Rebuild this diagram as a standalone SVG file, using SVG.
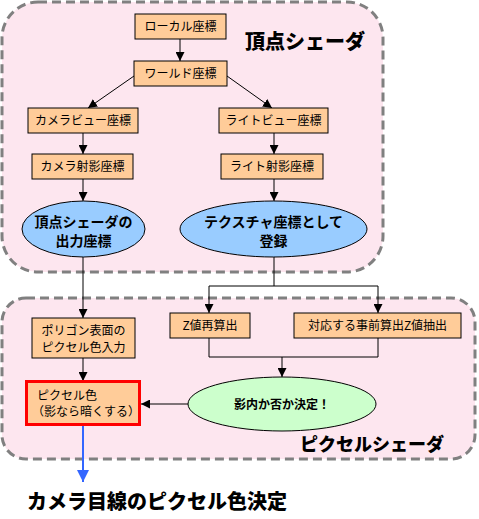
<svg xmlns="http://www.w3.org/2000/svg" width="479" height="519" viewBox="0 0 479 519">
<style>
.grp{fill:#fde6ef;stroke:#808080;stroke-width:3;stroke-dasharray:9 5}
.box{fill:#ffcc99;stroke:#000;stroke-width:1}
.t{font-family:"Noto Sans CJK JP",sans-serif;font-size:12px;fill:#000}
.e{font-family:"Noto Sans CJK JP",sans-serif;font-size:14px;font-weight:bold;fill:#000}
.big{font-family:"Noto Sans CJK JP",sans-serif;font-weight:900;fill:#000}
.c{fill:none;stroke:#000;stroke-width:1}
</style>
<defs>
<marker id="a" viewBox="0 0 10 10" refX="10" refY="5" markerWidth="9" markerHeight="9" markerUnits="userSpaceOnUse" orient="auto"><path d="M0,0L10,5L0,10z" fill="#000"/></marker>
<marker id="ab" viewBox="0 0 10 10" refX="10" refY="5" markerWidth="12" markerHeight="12" markerUnits="userSpaceOnUse" orient="auto"><path d="M0,0L10,5L0,10z" fill="#3366ff"/></marker>
</defs>
<rect class="grp" x="2" y="2" width="381" height="270" rx="36"/>
<rect class="grp" x="2" y="298" width="473" height="161" rx="24"/>
<text class="big" x="245" y="49" font-size="20">頂点シェーダ</text>
<text class="big" x="300" y="451" font-size="18">ピクセルシェーダ</text>
<g id="connectors">
<path class="c" d="M180,39V61" marker-end="url(#a)"/>
<path class="c" d="M134,76L88,108" marker-end="url(#a)"/>
<path class="c" d="M227,76L272,108" marker-end="url(#a)"/>
<path class="c" d="M83,133V154" marker-end="url(#a)"/>
<path class="c" d="M274,133V154" marker-end="url(#a)"/>
<path class="c" d="M83,179V201" marker-end="url(#a)"/>
<path class="c" d="M274,179V201" marker-end="url(#a)"/>
<path class="c" d="M83,257V318" marker-end="url(#a)"/>
<path class="c" d="M274,257V286H209V313" marker-end="url(#a)"/>
<path class="c" d="M274,286H378V313" marker-end="url(#a)"/>
<path class="c" d="M209,338V357H378V338"/>
<path class="c" d="M282,357V377" marker-end="url(#a)"/>
<path class="c" d="M83,358V381" marker-end="url(#a)"/>
<path class="c" d="M188,404H141" marker-end="url(#a)"/>
<path d="M83,426V482" stroke="#3366ff" stroke-width="2" fill="none" marker-end="url(#ab)"/>
</g>
<g id="local"><rect class="box" x="135" y="14" width="91" height="25"/><text class="t" x="180.5" y="31" text-anchor="middle">ローカル座標</text></g>
<g id="world"><rect class="box" x="134" y="61" width="93" height="25"/><text class="t" x="180.5" y="78" text-anchor="middle">ワールド座標</text></g>
<g id="camview"><rect class="box" x="28" y="108" width="110" height="25"/><text class="t" x="83" y="125" text-anchor="middle">カメラビュー座標</text></g>
<g id="lightview"><rect class="box" x="219" y="108" width="109" height="25"/><text class="t" x="273.5" y="125" text-anchor="middle">ライトビュー座標</text></g>
<g id="camproj"><rect class="box" x="32" y="154" width="101" height="25"/><text class="t" x="82.5" y="171" text-anchor="middle">カメラ射影座標</text></g>
<g id="lightproj"><rect class="box" x="221" y="154" width="102" height="25"/><text class="t" x="272" y="171" text-anchor="middle">ライト射影座標</text></g>
<g id="vsout"><ellipse cx="83.5" cy="229" rx="61.5" ry="28" fill="#99ccff" stroke="#000"/><text class="e" x="83.5" y="227" text-anchor="middle">頂点シェーダの</text><text class="e" x="83.5" y="246" text-anchor="middle">出力座標</text></g>
<g id="texreg"><ellipse cx="273.5" cy="229" rx="93.5" ry="28" fill="#99ccff" stroke="#000"/><text class="e" x="273.5" y="227" text-anchor="middle">テクスチャ座標として</text><text class="e" x="273.5" y="246" text-anchor="middle">登録</text></g>
<g id="polygon"><rect class="box" x="32" y="318" width="103" height="40"/><text class="t" x="83.5" y="335" text-anchor="middle">ポリゴン表面の</text><text class="t" x="83.5" y="352" text-anchor="middle">ピクセル色入力</text></g>
<g id="zcalc"><rect class="box" x="170" y="313" width="80" height="25"/><text class="t" x="210" y="330" text-anchor="middle">Z値再算出</text></g>
<g id="zext"><rect class="box" x="294" y="313" width="167" height="25"/><text class="t" x="377.5" y="330" text-anchor="middle">対応する事前算出Z値抽出</text></g>
<g id="shadow"><ellipse cx="282" cy="404" rx="94" ry="27" fill="#ccffcc" stroke="#000"/><text class="t" x="282" y="409" text-anchor="middle" font-weight="bold">影内か否か決定！</text></g>
<g id="pixel"><rect x="26.5" y="381.5" width="113" height="43" fill="#ffcc99" stroke="#ff0000" stroke-width="3"/><text class="t" x="37" y="400">ピクセル色</text><text class="t" x="32" y="416">（影なら暗くする）</text></g>
<text class="big" x="27" y="509" font-size="20">カメラ目線のピクセル色決定</text>
</svg>
